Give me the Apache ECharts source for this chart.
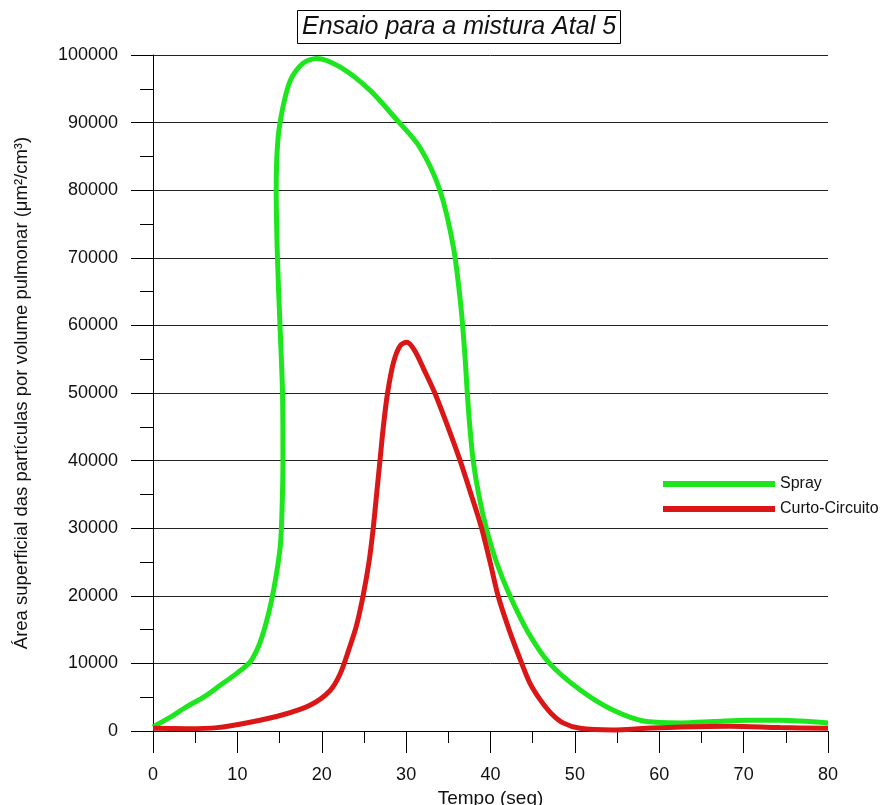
<!DOCTYPE html>
<html>
<head>
<meta charset="utf-8">
<script src="https://cdn.jsdelivr.net/npm/echarts@6/dist/echarts.min.js"></script>
<style>
html,body{margin:0;padding:0;background:#fff;}
#chart{width:895px;height:805px;}
</style>
</head>
<body>
<div id="chart"></div>
<script>
const titleText = 'Ensaio para a mistura Atal 5';
const xAxisName = 'Tempo (seg)';
const yAxisName = 'Área superficial das partículas por volume pulmonar (μm²/cm³)';
const seriesNames = ['Spray', 'Curto-Circuito'];

// Spray (green) [tempo, valor]
const sprayData = [
  [0, 600], [2, 2000], [4, 3600], [6, 5000], [8, 6800], [10, 8600], [11.5, 10200],
  [12.5, 12500], [13.3, 15500], [14.0, 19000], [14.6, 23000], [15.1, 27500],
  [15.3, 33000], [15.4, 40000], [15.35, 50000], [15.05, 60000], [14.75, 70000],
  [14.6, 80000], [14.8, 87400], [15.4, 92300], [16.3, 96300], [17.8, 98800],
  [19.4, 99500], [22.2, 98200], [25.7, 94800], [28.9, 90400], [31.6, 86400],
  [34.0, 80000], [35.6, 71600], [36.5, 62700], [37.0, 55000], [37.25, 50000],
  [37.55, 45000], [37.95, 40000], [38.6, 35000], [39.5, 30000], [40.7, 25000],
  [42.3, 20000], [44.5, 14500], [47.0, 10000], [50.6, 6100], [54.5, 3100],
  [58.5, 1400], [62.5, 1200], [66.5, 1400], [70.4, 1600], [74.3, 1600], [80, 1200]
];

// Curto-Circuito (red) [tempo, valor]
const curtoData = [
  [0, 400], [4, 350], [7.6, 500], [11.5, 1300], [15.4, 2400], [18.6, 3800],
  [21, 6000], [22.2, 8500], [23.2, 12000], [24.1, 15500], [24.9, 20000],
  [25.6, 25000], [26.1, 30000], [26.5, 35000], [26.9, 40000], [27.3, 45000],
  [27.8, 50000], [28.5, 54500], [29.3, 57000], [30.1, 57500], [31.0, 56300],
  [32.1, 53500], [33.4, 50000], [34.95, 45000], [36.4, 40000], [37.7, 35000],
  [38.95, 30000], [39.95, 25000], [40.9, 20000], [42.2, 15000], [43.7, 10000],
  [44.7, 7000], [45.9, 4600], [47.2, 2600], [48.6, 1200], [50.6, 400],
  [54.5, 150], [58.5, 400], [62.5, 600], [68.4, 700], [74.3, 500], [80, 400]
];

const chart = echarts.init(document.getElementById('chart'), null, {renderer: 'canvas'});
const FONT = 'Liberation Sans, Arial, sans-serif';
chart.setOption({
  backgroundColor: '#fff',
  animation: false,
  title: {
    text: titleText,
    left: 297,
    top: 10,
    padding: [4, 5],
    borderWidth: 1,
    borderColor: '#000',
    textStyle: {fontFamily: FONT, fontSize: 25, fontStyle: 'italic', fontWeight: 'normal', color: '#111', lineHeight: 26}
  },
  legend: {
    orient: 'vertical',
    left: 658,
    top: 470,
    icon: 'rect',
    itemWidth: 112,
    itemHeight: 6,
    itemGap: 7,
    textStyle: {fontFamily: FONT, fontSize: 16, color: '#111', lineHeight: 18},
    data: seriesNames
  },
  grid: {left: 153, right: 67, top: 55, bottom: 74, containLabel: false, outerBoundsMode: 'none'},
  xAxis: {
    type: 'value',
    min: 0, max: 80, interval: 10,
    name: xAxisName,
    nameLocation: 'middle',
    nameGap: 57,
    nameTextStyle: {fontFamily: FONT, fontSize: 19, color: '#111'},
    axisLine: {show: true, onZero: false, lineStyle: {color: '#000', width: 1}},
    axisTick: {show: true, inside: false, length: 22, lineStyle: {color: '#000', width: 1}},
    minorTick: {show: true, splitNumber: 2, length: 12, lineStyle: {color: '#000', width: 1}},
    axisLabel: {margin: 35, fontFamily: FONT, fontSize: 18, color: '#111'},
    splitLine: {show: false}
  },
  yAxis: {
    type: 'value',
    min: 0, max: 100000, interval: 10000,
    name: yAxisName,
    nameLocation: 'middle',
    nameGap: 122,
    nameTextStyle: {fontFamily: FONT, fontSize: 18.5, color: '#111'},
    axisLine: {show: true, lineStyle: {color: '#000', width: 1}},
    axisTick: {show: true, inside: false, length: 22, lineStyle: {color: '#000', width: 1}},
    minorTick: {show: true, splitNumber: 2, length: 13, lineStyle: {color: '#000', width: 1}},
    axisLabel: {margin: 35, fontFamily: FONT, fontSize: 18, color: '#111', formatter: function (v) { return String(v); }},
    splitLine: {show: true, lineStyle: {color: '#222', width: 1}}
  },
  series: [
    {
      name: seriesNames[0], type: 'line', data: sprayData,
      showSymbol: false, symbol: 'none', smooth: 0.3,
      lineStyle: {color: '#1ee61e', width: 5},
      itemStyle: {color: '#1ee61e'}
    },
    {
      name: seriesNames[1], type: 'line', data: curtoData,
      showSymbol: false, symbol: 'none', smooth: 0.3,
      lineStyle: {color: '#da1616', width: 5},
      itemStyle: {color: '#da1616'}
    }
  ]
});
</script>
</body>
</html>
